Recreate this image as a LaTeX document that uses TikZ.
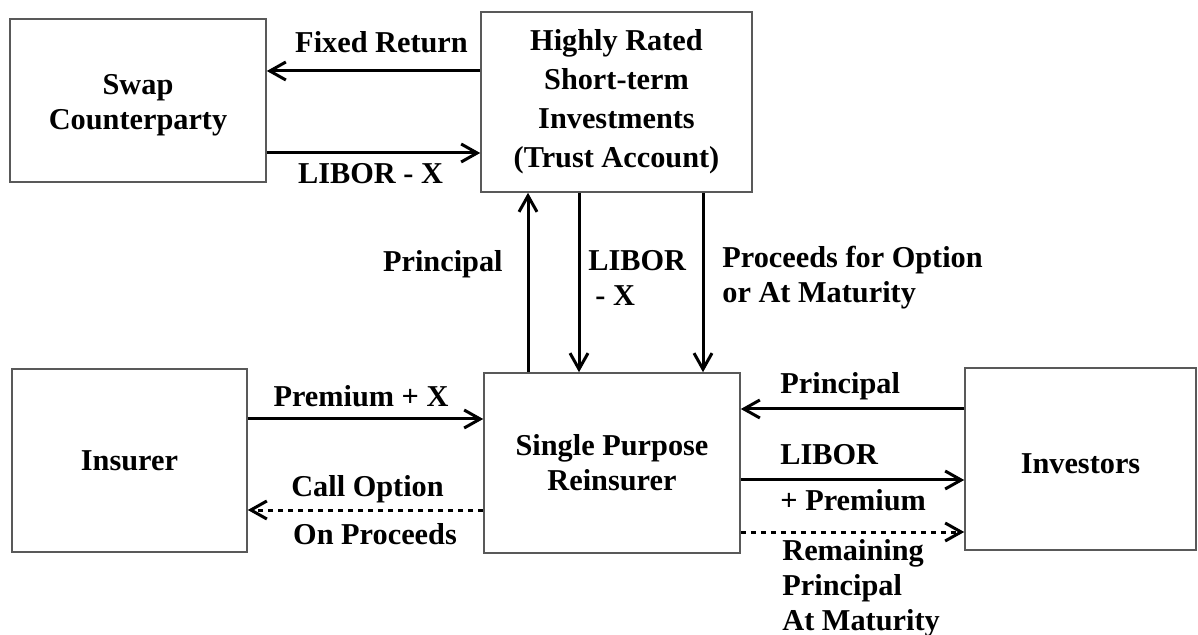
\documentclass[tikz,border=0pt]{standalone}
\usepackage{fontspec}
\setmainfont{Liberation Serif}
\usetikzlibrary{arrows.meta}
\newcommand{\partyBox}[5]{
  \node[party,minimum width=#3,minimum height=#4] (#1) at #2 {#5}
}
\newcommand{\lowered}[1]{\raisebox{-2.5pt}[\height][\depth]{#1}}
\tikzset{
  party/.style={draw=black!65,line width=0.8pt,align=center,inner sep=0pt},
  flow/.style={line width=1.5pt,-{Straight Barb[length=8pt,width=9pt]}},
  optflow/.style={flow,dash pattern=on 2.5pt off 2.5pt},
  lbl/.style={inner sep=0pt,align=left}
}

\begin{document}
\begin{tikzpicture}[x=0.5pt,y=-0.5pt,font=\fontsize{15.15pt}{17.5pt}\selectfont\bfseries]
  \useasboundingbox (0,0) rectangle (1198,635);

  \partyBox{swap}{(138,100.5)}{128pt}{81.5pt}{\lowered{Swap}\\\lowered{Counterparty}};
  \partyBox{trust}{(616.5,102)}{135.5pt}{90pt}{Highly Rated\\[2pt]Short-term\\[2pt]Investments\\[2pt](Trust Account)};
  \partyBox{insurer}{(129.5,460.5)}{117.5pt}{91.5pt}{Insurer};
  \partyBox{spr}{(612,463)}{128pt}{90pt}{Single Purpose\\Reinsurer};
  \partyBox{investors}{(1080.5,459)}{115.5pt}{91pt}{\lowered{Investors}};

  \draw[flow] (trust.west |- 0,71) -- (swap.east |- 0,71);
  \draw[flow] (swap.east |- 0,153) -- (trust.west |- 0,153);
  \draw[flow] (spr.north -| 528,0) -- (trust.south -| 528,0);
  \draw[flow] (trust.south -| 579,0) -- (spr.north -| 579,0);
  \draw[flow] (trust.south -| 703,0) -- (spr.north -| 703,0);
  \draw[flow] (insurer.east |- 0,419) -- (spr.west |- 0,419);
  \draw[optflow] (spr.west |- 0,510) -- (insurer.east |- 0,510);
  \draw[flow] (investors.west |- 0,409) -- (spr.east |- 0,409);
  \draw[flow] (spr.east |- 0,480) -- (investors.west |- 0,480);
  \draw[optflow] (spr.east |- 0,532) -- (investors.west |- 0,532);

  \node[lbl,anchor=base] (fixedret) at (381.5,53) {Fixed Return};
  \node[lbl,anchor=base] (swapleg) at (370.5,184) {LIBOR - X};
  \node[lbl,anchor=base east] (prinup) at (503,272) {Principal};
  \node[lbl,anchor=north west] (libdown) at (588,250) {LIBOR\\\hspace*{3.5pt}- X};
  \node[lbl,anchor=north west] (proceeds) at (722,246) {Proceeds for Option\\or At Maturity};
  \node[lbl,anchor=base] (premx) at (361,407) {Premium + X};
  \node[lbl,anchor=base] (callopt) at (367.5,496) {Call Option};
  \node[lbl,anchor=base] (onproc) at (375,544) {On Proceeds};
  \node[lbl,anchor=base west] (prinin) at (780,394) {Principal};
  \node[lbl,anchor=base west] (libout) at (780,465) {LIBOR};
  \node[lbl,anchor=base west] (premout) at (780,510) {+ Premium};
  \node[lbl,anchor=north west] (remain) at (782,539) {Remaining\\Principal\\At Maturity};
\end{tikzpicture}
\end{document}
